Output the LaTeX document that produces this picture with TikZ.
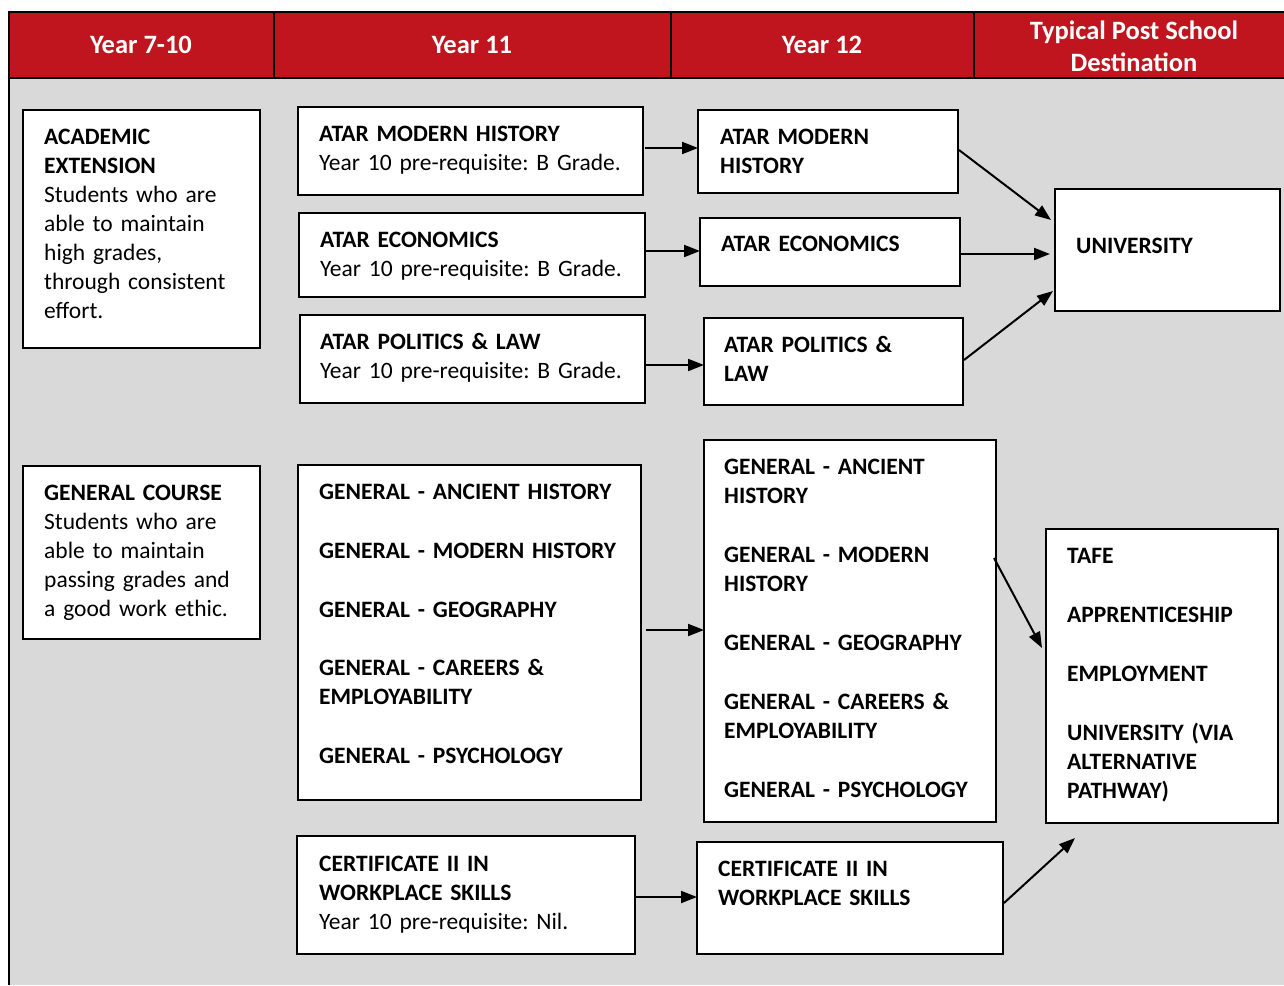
\documentclass[tikz,border=0pt]{standalone}
\usepackage{fontspec}
\setmainfont{Carlito}
\usetikzlibrary{arrows.meta,calc}
\definecolor{hdrred}{RGB}{192,20,30}
\definecolor{bggray}{RGB}{217,217,217}
\frenchspacing
\tikzset{
 box/.style={draw=black, line width=1.6pt, fill=white, anchor=north west, inner sep=0pt, outer sep=0pt},
 txt/.style={anchor=base west, inner sep=0pt, align=left, text width=420pt, font=\fontsize{23.5}{29}\selectfont\frenchspacing},
 hdr/.style={text=white, font=\bfseries\fontsize{26.5}{32}\selectfont, align=center, inner sep=0pt},
 arr/.style={line width=2pt, -{Triangle[length=16pt,width=12pt]}},
 frame/.style={line width=2pt, draw=black}
}
\begin{document}
\begin{tikzpicture}[x=1pt,y=-1pt]
\useasboundingbox (0,0) rectangle (1284,985);
\fill[white] (0,0) rectangle (1284,985);
\fill[bggray] (9,78) rectangle (1284,985);
\fill[hdrred] (9,12) rectangle (1284,78);
\draw[frame] (1284,12) -- (9,12) -- (9,985);
\draw[frame] (9,78) -- (1284,78);
\draw[frame] (274,12) -- (274,78);
\draw[frame] (671,12) -- (671,78);
\draw[frame] (974,12) -- (974,78);
\node[hdr] (h1) at (141,45) {Year 7-10};
\node[hdr] (h2) at (472,45) {Year 11};
\node[hdr] (h3) at (822,45) {Year 12};
\node[hdr] (h4) at (1134,46) {Typical Post School\\Destination};

% boxes
\node[box, minimum width=237pt, minimum height=238pt] (acad) at (23,110) {};
\node[box, minimum width=237pt, minimum height=173pt] (gen) at (23,466) {};
\node[box, minimum width=345pt, minimum height=88pt] (mh11) at (298,107) {};
\node[box, minimum width=346pt, minimum height=84pt] (ec11) at (299,213) {};
\node[box, minimum width=345pt, minimum height=88pt] (pl11) at (300,315) {};
\node[box, minimum width=260pt, minimum height=83pt] (mh12) at (698,110) {};
\node[box, minimum width=260pt, minimum height=68pt] (ec12) at (700,218) {};
\node[box, minimum width=259pt, minimum height=87pt] (pl12) at (704,318) {};
\node[box, minimum width=225pt, minimum height=122pt] (uni) at (1055,189) {};
\node[box, minimum width=343pt, minimum height=335pt] (gen11) at (298,465) {};
\node[box, minimum width=292pt, minimum height=382pt] (gen12) at (704,440) {};
\node[box, minimum width=232pt, minimum height=294pt] (tafe) at (1046,529) {};
\node[box, minimum width=338pt, minimum height=118pt] (cert11) at (297,836) {};
\node[box, minimum width=306pt, minimum height=112pt] (cert12) at (697,842) {};

% texts
\node[txt] (acadt) at (44,144) {\textbf{ACADEMIC}\\\textbf{EXTENSION}\\Students who are\\able to maintain\\high grades,\\through consistent\\effort.};
\node[txt] (gent) at (44,500) {\textbf{GENERAL COURSE}\\Students who are\\able to maintain\\passing grades and\\a good work ethic.};
\node[txt] (mh11t) at (319,141) {\textbf{ATAR MODERN HISTORY}\\Year 10 pre-requisite: B Grade.};
\node[txt] (ec11t) at (320,247) {\textbf{ATAR ECONOMICS}\\Year 10 pre-requisite: B Grade.};
\node[txt] (pl11t) at (320,349) {\textbf{ATAR POLITICS \& LAW}\\Year 10 pre-requisite: B Grade.};
\node[txt] (mh12t) at (720,144) {\textbf{ATAR MODERN}\\\textbf{HISTORY}};
\node[txt] (ec12t) at (721,251) {\textbf{ATAR ECONOMICS}};
\node[txt] (pl12t) at (724,352) {\textbf{ATAR POLITICS \&}\\\textbf{LAW}};
\node[txt] (unit) at (1076,253) {\textbf{UNIVERSITY}};
\node[txt] (gen11t) at (319,499) {\textbf{GENERAL - ANCIENT HISTORY}\\[30pt]\textbf{GENERAL - MODERN HISTORY}\\[30pt]\textbf{GENERAL - GEOGRAPHY}\\[29.5pt]\textbf{GENERAL - CAREERS \&}\\\textbf{EMPLOYABILITY}\\[30pt]\textbf{GENERAL - PSYCHOLOGY}};
\node[txt] (gen12t) at (724,474) {\textbf{GENERAL - ANCIENT}\\\textbf{HISTORY}\\[30pt]\textbf{GENERAL - MODERN}\\\textbf{HISTORY}\\[30pt]\textbf{GENERAL - GEOGRAPHY}\\[30pt]\textbf{GENERAL - CAREERS \&}\\\textbf{EMPLOYABILITY}\\[30pt]\textbf{GENERAL - PSYCHOLOGY}};
\node[txt] (tafet) at (1067,563) {\textbf{TAFE}\\[30pt]\textbf{APPRENTICESHIP}\\[30pt]\textbf{EMPLOYMENT}\\[30pt]\textbf{UNIVERSITY (VIA}\\\textbf{ALTERNATIVE}\\\textbf{PATHWAY)}};
\node[txt] (cert11t) at (319,871) {\textbf{CERTIFICATE II IN}\\\textbf{WORKPLACE SKILLS}\\Year 10 pre-requisite: Nil.};
\node[txt] (cert12t) at (718,876) {\textbf{CERTIFICATE II IN}\\\textbf{WORKPLACE SKILLS}};

% arrows
\draw[arr] ($(mh11.east)+(2,-3)$) -- ($(mh12.west)+(0,-3.5)$);
\draw[arr] ($(ec11.east)+(1,-4)$) -- ($(ec12.west)+(0,-1)$);
\draw[arr] ($(pl11.east)+(1,6)$) -- ($(pl12.west)+(0,3.5)$);
\draw[arr] ($(mh12.east)+(1,-1.5)$) -- ($(uni.west)+(-4,-30)$);
\draw[arr] ($(ec12.east)+(1,2)$) -- ($(uni.west)+(-5,4)$);
\draw[arr] ($(pl12.east)+(1,-1.5)$) -- ($(uni.west)+(-2,41)$);
\draw[arr] ($(gen11.east)+(5,-2.5)$) -- ($(gen12.west)+(0,-1)$);
\draw[arr] ($(gen12.east)+(-2,-73)$) -- ($(tafe.west)+(-4,-28)$);
\draw[arr] ($(cert11.east)+(1,2)$) -- ($(cert12.west)+(0,-1)$);
\draw[arr] ($(cert12.east)+(1,5)$) -- ($(tafe.south)+(-87,15)$);
\end{tikzpicture}
\end{document}
